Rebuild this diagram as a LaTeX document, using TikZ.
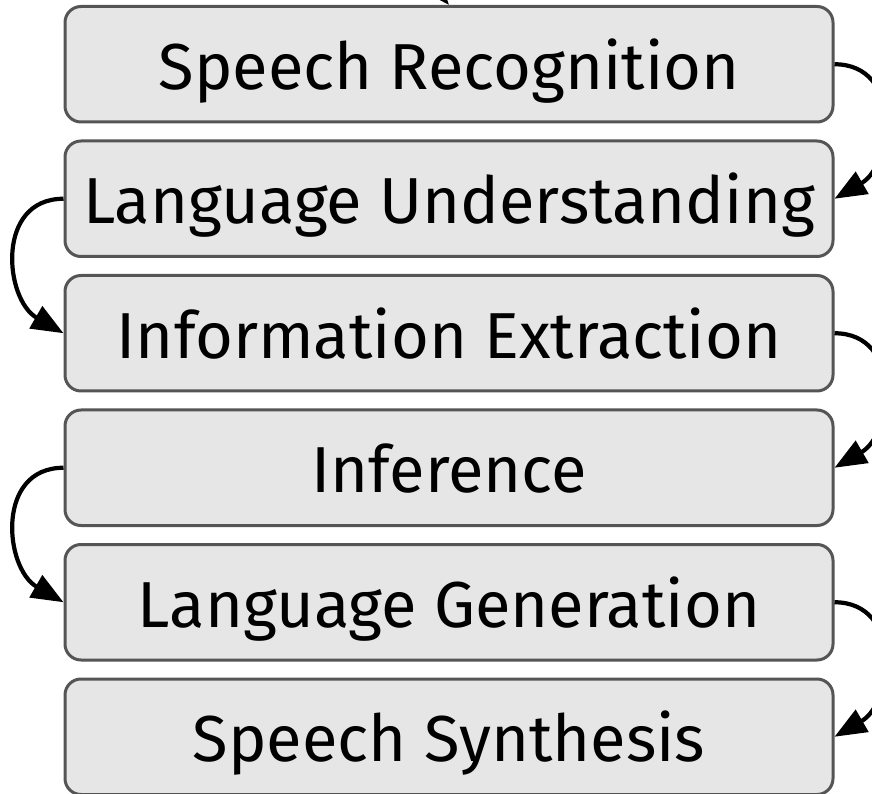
\documentclass[tikz,border=0pt]{standalone}
\usepackage{fontspec}
\setmainfont{Fira Sans}
\usetikzlibrary{arrows.meta}

\definecolor{boxfill}{HTML}{E6E6E6}
\definecolor{boxline}{HTML}{555555}

\tikzset{
  stage/.style={
    rectangle, rounded corners=16pt, draw=boxline, line width=3pt,
    fill=boxfill, minimum width=768pt, minimum height=115.5pt,
    inner sep=0pt, text height=55pt, text depth=5pt,
    font=\fontsize{65}{76}\selectfont, text=black
  },
  flow/.style={
    draw=black, line width=4.2pt,
    -{Triangle[length=32pt,width=25pt]}
  }
}

\begin{document}
\begin{tikzpicture}[x=1pt,y=1pt]
  \useasboundingbox (0,0) rectangle (872,793);

  % the pipeline stages, top to bottom
  \node[stage] (s1) at (449,728.75) {Speech Recognition};
  \node[stage] (s2) at (449,594.25) {Language Understanding};
  \node[stage] (s3) at (449,459.75) {Information Extraction};
  \node[stage] (s4) at (449,325.25) {Inference};
  \node[stage] (s5) at (449,190.75) {Language Generation};
  \node[stage] (s6) at (449,56.25)  {Speech Synthesis};

  % incoming flow from above the first stage
  \coordinate (src) at (380,880);
  \draw[flow] (src) to[out=-40,in=130] (s1.north);

  % connectors alternate between the right and the left side
  \draw[flow] (s1.east) to[out=0,in=30,looseness=1.3] (s2.east);
  \draw[flow] (s2.west) to[out=180,in=150,looseness=1.3] (s3.west);
  \draw[flow] (s3.east) to[out=0,in=30,looseness=1.3] (s4.east);
  \draw[flow] (s4.west) to[out=180,in=150,looseness=1.3] (s5.west);
  \draw[flow] (s5.east) to[out=0,in=30,looseness=1.3] (s6.east);
\end{tikzpicture}
\end{document}
